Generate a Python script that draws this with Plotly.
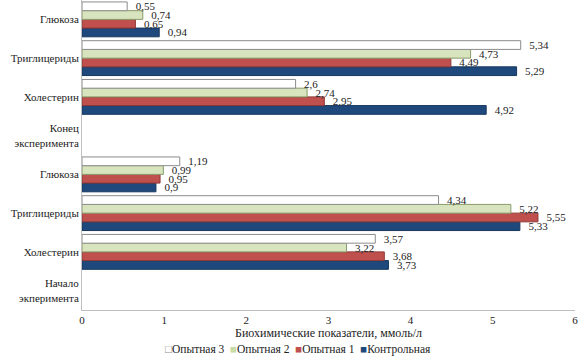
import plotly.graph_objects as go

categories = ["Начало<br>экперимента", "Холестерин", "Триглицериды", "Глюкоза",
              "Конец<br>эксперимента", "Холестерин", "Триглицериды", "Глюкоза"]
series_names = ["Контрольная", "Опытная 1", "Опытная 2", "Опытная 3"]
kontrol = [None, 3.73, 5.33, 0.90, None, 4.92, 5.29, 0.94]
opyt1 = [None, 3.68, 5.55, 0.95, None, 2.95, 4.49, 0.65]
opyt2 = [None, 3.22, 5.22, 0.99, None, 2.74, 4.73, 0.74]
opyt3 = [None, 3.57, 4.34, 1.19, None, 2.60, 5.34, 0.55]
x_ticks = [0, 1, 2, 3, 4, 5, 6]

SERIF = "Liberation Serif, Times New Roman, DejaVu Serif, serif"
fills = ["#1F497D", "#C0504D", "#D7E4BD", "#FFFFFF"]
lines = ["#17375E", "#8C3836", "#8A9A6A", "#8C8C8C"]
legend_sym_colors = ["#1F497D", "#C0504D", "#C9DBA6", "#8C8C8C"]
legend_syms = ["■", "■", "■", "□"]

ypos = list(range(len(categories)))
fig = go.Figure()
for name, vals, fc, lc in zip(series_names, [kontrol, opyt1, opyt2, opyt3], fills, lines):
    txt = ["" if v is None else "\u00a0\u00a0" + f"{v:g}".replace(".", ",") for v in vals]
    fig.add_trace(go.Bar(
        y=ypos, x=vals, name=name, orientation="h",
        marker=dict(color=fc, line=dict(color=lc, width=1)),
        text=txt, textposition="outside", cliponaxis=False,
        textfont=dict(family=SERIF, size=11, color="#222"),
        showlegend=False,
    ))

legend_parts = []
for name, sym, col in zip(reversed(series_names), reversed(legend_syms), reversed(legend_sym_colors)):
    legend_parts.append(f"<span style='color:{col}'>{sym}</span>{name}")
legend_text = "\u00a0\u00a0".join(legend_parts)

fig.update_layout(
    width=584, height=359,
    margin=dict(l=82, r=9, t=0, b=49, autoexpand=False),
    paper_bgcolor="white", plot_bgcolor="white",
    barmode="group", bargap=0.1, bargroupgap=0,
    font=dict(family=SERIF, size=11, color="#222"),
    showlegend=False,
    uniformtext=dict(minsize=8, mode="show"),
    annotations=[dict(text=legend_text, xref="paper", yref="paper", x=0.438, y=-0.1,
                      xanchor="center", yanchor="top", showarrow=False,
                      font=dict(family=SERIF, size=11.5, color="#222"))],
)
fig.update_xaxes(range=[0, 6.001], tickvals=x_ticks, ticktext=[str(t) for t in x_ticks],
                 showgrid=False, zeroline=False, showline=True, linecolor="#BFBFBF",
                 ticks="", tickfont=dict(family=SERIF, size=11), automargin=False,
                 title=dict(text="Биохимические показатели, ммоль/л", font=dict(family=SERIF, size=12), standoff=0))
fig.update_yaxes(range=[-0.5, 7.5], tickvals=ypos, ticktext=categories,
                 showgrid=False, zeroline=False, showline=True, linecolor="#BFBFBF",
                 ticks="", tickfont=dict(family=SERIF, size=11), automargin=False)

fig.write_html("out.html", config={"displayModeBar": False},
               post_script="document.body.style.margin='0px';")
